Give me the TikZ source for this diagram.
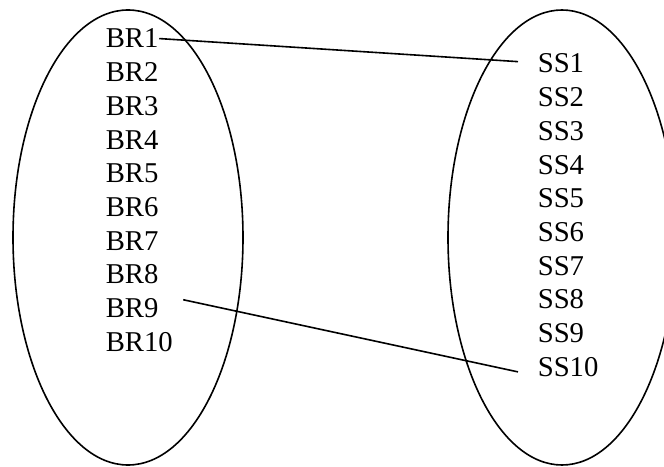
\documentclass[tikz,border=0pt]{standalone}
\usepackage{fontspec}
\setmainfont{Liberation Serif}

\begin{document}
\begin{tikzpicture}[x=0.5pt,y=0.5pt,line width=0.8pt,
  item/.style={anchor=base west,inner sep=0pt,font=\fontsize{14.35}{17}\selectfont}]
\useasboundingbox (0,0) rectangle (664,466);
\clip (0,0) rectangle (664,466);
% the two sets
\draw (128,228.5) ellipse [x radius=115,y radius=227.5];
\draw (562,228.5) ellipse [x radius=114,y radius=227.5];
% members
\foreach \i in {1,...,10} {
  \node[item] (br\i) at (105,{418-33.7*(\i-1)}) {BR\i};
  \node[item] (ss\i) at (537,{393-33.7*(\i-1)}) {SS\i};
}
% mappings
\draw (br1.east) -- ([xshift=-9.5pt,yshift=1pt]ss1.west);
\draw ([xshift=12pt,yshift=4.25pt]br9.east) -- ([xshift=-9.5pt,yshift=-2.5pt]ss10.west);
\end{tikzpicture}
\end{document}
